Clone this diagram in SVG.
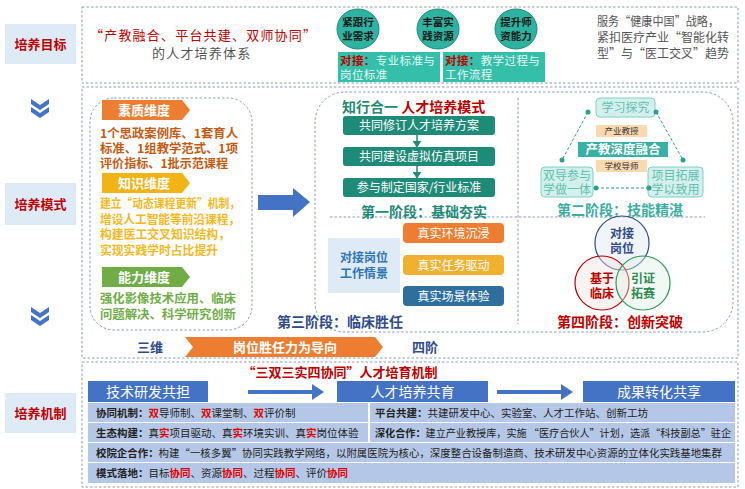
<svg xmlns="http://www.w3.org/2000/svg" width="745" height="489" viewBox="0 0 745 489">
<defs>
<style>
text{font-family:"Noto Sans CJK SC","Noto Sans",sans-serif;}
.dash{fill:none;stroke:#8a9bbb;stroke-width:1;stroke-dasharray:2.5,2}
.lbl{fill:#deebf7;}
.lbltx{fill:#c00000;font-size:13px;font-weight:bold;text-anchor:middle;}
.chev{fill:#4472c4;}
.kai{font-size:13px;letter-spacing:1.2px;}
.circ{fill:#2db3a0;stroke:#1d8e7e;stroke-width:1;}
.circtx{font-size:10.5px;font-weight:bold;fill:#1a1a1a;text-anchor:middle;}
.tealbox{fill:#33bfa9;}
.dimtx{font-size:12px;font-weight:bold;}
.s1box{fill:#1e8a78;}
.s1tx{fill:#fff;font-size:12px;text-anchor:middle;}
.s2box{fill:#d4f0ec;stroke:#7fd0c6;stroke-width:1;}
.s2tx{fill:#5fbfb3;font-size:12px;text-anchor:middle;}
.tan{fill:#fbd9b0;}
.tantx{fill:#333;font-size:8.5px;text-anchor:middle;}
.dot{fill:#2e9e90;}
.dl{stroke:#2e9e90;stroke-width:1;stroke-dasharray:3,2;fill:none;}
.s3tx{fill:#fff;font-size:12px;text-anchor:middle;}
.hdr{fill:#4472c4;}
.hdrtx{fill:#fff;font-size:14px;text-anchor:middle;}
.row{fill:#b4c7e7;}
.rt{font-size:10.5px;fill:#222;}
.b{font-weight:bold;}
.r{fill:#e00000;font-weight:bold;}
.stage{font-size:14px;font-weight:bold;text-anchor:middle;}
.tb{font-size:11.5px;letter-spacing:0.4px;}
.rtx{font-size:12px;fill:#555;}
</style>
<marker id="ah" markerWidth="4" markerHeight="4" refX="1" refY="2" orient="auto" markerUnits="strokeWidth">
<path d="M0,0 L3,2 L0,4 z" fill="#4472c4"/>
</marker>
<marker id="ahs" markerWidth="6" markerHeight="6" refX="1" refY="3" orient="auto" markerUnits="strokeWidth">
<path d="M0,0 L5,3 L0,6 z" fill="#1e8a78"/>
</marker>
</defs>

<rect width="745" height="489" fill="#ffffff"/>

<!-- left labels -->
<g id="label-goal"><rect class="lbl" x="5" y="24" width="71" height="40"/><text class="lbltx" x="40.5" y="48.5">培养目标</text></g>
<g id="chev1"><polygon class="chev" points="31,99 40,105 49,99 49,104 40,110 31,104"/><polygon class="chev" points="31,107 40,113 49,107 49,112 40,118 31,112"/></g>
<g id="label-mode"><rect class="lbl" x="5" y="183" width="71" height="42"/><text class="lbltx" x="40.5" y="208.5">培养模式</text></g>
<g id="chev2"><polygon class="chev" points="31,307 40,313 49,307 49,312 40,318 31,312"/><polygon class="chev" points="31,315 40,321 49,315 49,320 40,326 31,320"/></g>
<g id="label-mech"><rect class="lbl" x="5" y="393" width="71" height="40"/><text class="lbltx" x="40.5" y="417.5">培养机制</text></g>

<!-- top section -->
<g id="goal-section">
<rect class="dash" x="82" y="7" width="656" height="76"/>
<text class="kai" x="90" y="40" fill="#c00000">“产教融合、平台共建、双师协同”</text>
<text class="kai" x="152" y="58" fill="#555">的人才培养体系</text>
<g id="circ1"><ellipse class="circ" cx="358" cy="29" rx="21" ry="20"/><text class="circtx" x="358" y="26">紧跟行</text><text class="circtx" x="358" y="40">业需求</text></g>
<g id="circ2"><ellipse class="circ" cx="438" cy="29" rx="21" ry="20"/><text class="circtx" x="438" y="26">丰富实</text><text class="circtx" x="438" y="40">践资源</text></g>
<g id="circ3"><ellipse class="circ" cx="516" cy="29" rx="21" ry="20"/><text class="circtx" x="516" y="26">提升师</text><text class="circtx" x="516" y="40">资能力</text></g>
<g id="dock1"><rect class="tealbox" x="338" y="52" width="102" height="30"/>
<text class="tb" x="340" y="65"><tspan fill="#c00000" font-weight="bold">对接：</tspan><tspan fill="#e8f7f4">专业标准与</tspan></text>
<text class="tb" x="340" y="79" fill="#e8f7f4">岗位标准</text></g>
<g id="dock2"><rect class="tealbox" x="443" y="52" width="102" height="30"/>
<text class="tb" x="445" y="65"><tspan fill="#c00000" font-weight="bold">对接：</tspan><tspan fill="#e8f7f4">教学过程与</tspan></text>
<text class="tb" x="445" y="79" fill="#e8f7f4">工作流程</text></g>
<text class="rtx" x="597" y="26" textLength="122" lengthAdjust="spacingAndGlyphs">服务“健康中国”战略，</text>
<text class="rtx" x="597" y="42" textLength="132" lengthAdjust="spacingAndGlyphs">紧扣医疗产业“智能化转</text>
<text class="rtx" x="597" y="58" textLength="132" lengthAdjust="spacingAndGlyphs">型”与“医工交叉”趋势</text>
</g>

<!-- middle section -->
<rect class="dash" x="82" y="87" width="656" height="271"/>

<g id="dimensions">
<rect class="dash" x="90" y="98" width="162" height="232" rx="24"/>
<polygon points="102,100 182,100 190,110 182,120 102,120" fill="#ed7d31"/>
<text x="144" y="115" font-size="13" font-weight="bold" fill="#fff" text-anchor="middle">素质维度</text>
<text class="dimtx" x="100" y="138" fill="#c55a11" textLength="138" lengthAdjust="spacingAndGlyphs">1个思政案例库、1套育人</text>
<text class="dimtx" x="100" y="153" fill="#c55a11" textLength="138" lengthAdjust="spacingAndGlyphs">标准、1组教学范式、1项</text>
<text class="dimtx" x="100" y="168" fill="#c55a11" textLength="128" lengthAdjust="spacingAndGlyphs">评价指标、1批示范课程</text>
<polygon points="102,173 182,173 190,183 182,193 102,193" fill="#f2b316"/>
<text x="144" y="188" font-size="13" font-weight="bold" fill="#fff" text-anchor="middle">知识维度</text>
<text class="dimtx" x="100" y="208" fill="#f6b81c" textLength="140" lengthAdjust="spacingAndGlyphs">建立“动态课程更新”机制，</text>
<text class="dimtx" x="100" y="224" fill="#f6b81c" textLength="140" lengthAdjust="spacingAndGlyphs">增设人工智能等前沿课程，</text>
<text class="dimtx" x="100" y="239" fill="#f6b81c" textLength="130" lengthAdjust="spacingAndGlyphs">构建医工交叉知识结构，</text>
<text class="dimtx" x="100" y="255" fill="#f6b81c" textLength="118" lengthAdjust="spacingAndGlyphs">实现实践学时占比提升</text>
<polygon points="102,267 182,267 190,277 182,287 102,287" fill="#70ad47"/>
<text x="144" y="282" font-size="13" font-weight="bold" fill="#fff" text-anchor="middle">能力维度</text>
<text class="dimtx" x="100" y="303" fill="#70ad47" textLength="136" lengthAdjust="spacingAndGlyphs">强化影像技术应用、临床</text>
<text class="dimtx" x="100" y="319" fill="#70ad47" textLength="136" lengthAdjust="spacingAndGlyphs">问题解决、科学研究创新</text>
</g>

<g id="connectors">
<polygon points="258,195 293,195 293,188 310,202 293,217 293,210 258,210" fill="#4472c4"/>
<line x1="417" y1="135" x2="417" y2="142" stroke="#1e8a78" stroke-width="1.5" marker-end="url(#ahs)"/>
<line x1="417" y1="166" x2="417" y2="173" stroke="#1e8a78" stroke-width="1.5" marker-end="url(#ahs)"/>
<line x1="248" y1="392" x2="316" y2="392" stroke="#4472c4" stroke-width="4" marker-end="url(#ah)"/>
<line x1="497" y1="392" x2="565" y2="392" stroke="#4472c4" stroke-width="4" marker-end="url(#ah)"/>
</g>

<g id="stages">
<rect class="dash" x="315" y="92" width="418" height="240" rx="30"/>
<line class="dash" x1="518" y1="98" x2="518" y2="324"/>
<line class="dash" x1="330" y1="217" x2="705" y2="217"/>
</g>

<g id="stage1">
<text x="342" y="112" font-size="14" font-weight="bold"><tspan fill="#1f8a70">知行合一 </tspan><tspan fill="#c00000">人才培养模式</tspan></text>
<rect class="s1box" x="343" y="116" width="152" height="19" rx="3"/><text class="s1tx" x="419" y="130">共同修订人才培养方案</text>
<rect class="s1box" x="343" y="147" width="152" height="19" rx="3"/><text class="s1tx" x="419" y="161">共同建设虚拟仿真项目</text>
<rect class="s1box" x="343" y="178" width="152" height="19" rx="3"/><text class="s1tx" x="419" y="192">参与制定国家/行业标准</text>
<text class="stage" x="424" y="217" fill="#1f8a78">第一阶段：基础夯实</text>
</g>

<g id="stage2">
<path class="dl" d="M588,112 L562,160 M656,112 L683,160 M596,188 L649,188"/>
<rect class="s2box" x="596" y="98" width="59" height="19" rx="4"/><text class="s2tx" x="625.5" y="112">学习探究</text>
<rect class="s2box" x="541" y="167" width="52" height="30" rx="4"/><text class="s2tx" x="567" y="180">双导参与</text><text class="s2tx" x="567" y="194">学做一体</text>
<rect class="s2box" x="648" y="167" width="55" height="30" rx="4"/><text class="s2tx" x="675.5" y="180">项目拓展</text><text class="s2tx" x="675.5" y="194">学以致用</text>
<circle class="dot" cx="588" cy="112" r="2.5"/><circle class="dot" cx="656" cy="112" r="2.5"/>
<circle class="dot" cx="562" cy="160" r="2.5"/><circle class="dot" cx="683" cy="160" r="2.5"/>
<circle class="dot" cx="596" cy="188" r="2.5"/><circle class="dot" cx="649" cy="188" r="2.5"/>
<rect class="tan" x="596" y="125" width="51" height="12" rx="1"/><text class="tantx" x="621.5" y="134">产业教授</text>
<rect x="578" y="142" width="90" height="15" fill="#37b0a6"/><text x="623" y="154" font-size="12.5" font-weight="bold" fill="#fff" text-anchor="middle">产教深度融合</text>
<rect class="tan" x="596" y="160" width="51" height="12" rx="1"/><text class="tantx" x="621.5" y="169">学校导师</text>
<text class="stage" x="620" y="215" fill="#3aaea0">第二阶段：技能精湛</text>
</g>

<g id="stage3">
<rect x="328" y="238" width="72" height="55" fill="#deebf7"/>
<text x="364" y="262" font-size="12" font-weight="bold" fill="#2e75b6" text-anchor="middle">对接岗位</text>
<text x="364" y="278" font-size="12" font-weight="bold" fill="#2e75b6" text-anchor="middle">工作情景</text>
<rect x="403" y="223" width="101" height="20" rx="4" fill="#ed7d31"/><text class="s3tx" x="453.5" y="237.5">真实环境沉浸</text>
<rect x="403" y="255" width="101" height="20" rx="4" fill="#efb12f"/><text class="s3tx" x="453.5" y="269.5">真实任务驱动</text>
<rect x="403" y="286" width="101" height="20" rx="4" fill="#2e6f9e"/><text class="s3tx" x="453.5" y="300.5">真实场景体验</text>
<text class="stage" x="340" y="327" fill="#2f4b8a" text-anchor="start">第三阶段：临床胜任</text>
</g>

<g id="stage4">
<circle cx="622" cy="243" r="27" fill="#dde3f2" fill-opacity="0.4" stroke="#2f4b8a" stroke-width="1.2"/>
<circle cx="602" cy="283" r="27" fill="#f6dede" fill-opacity="0.4" stroke="#c00000" stroke-width="1.2"/>
<circle cx="643" cy="283" r="27" fill="#dcefe3" fill-opacity="0.4" stroke="#2e9a5a" stroke-width="1.2"/>
<text x="622" y="238" font-size="12" font-weight="bold" fill="#2f4b8a" text-anchor="middle">对接</text>
<text x="622" y="253" font-size="12" font-weight="bold" fill="#2f4b8a" text-anchor="middle">岗位</text>
<text x="602" y="283" font-size="12" font-weight="bold" fill="#c00000" text-anchor="middle">基于</text>
<text x="602" y="298" font-size="12" font-weight="bold" fill="#c00000" text-anchor="middle">临床</text>
<text x="643" y="283" font-size="12" font-weight="bold" fill="#2e8a50" text-anchor="middle">引证</text>
<text x="643" y="298" font-size="12" font-weight="bold" fill="#2e8a50" text-anchor="middle">拓赛</text>
<text class="stage" x="620" y="327" fill="#c00000">第四阶段：创新突破</text>
</g>

<g id="banner">
<text x="150" y="352" font-size="13" font-weight="bold" fill="#2f4b8a" text-anchor="middle">三维</text>
<polygon points="185,337 375,337 383,347 375,357 185,357 193,347" fill="#ed7d31"/>
<text x="285" y="352" font-size="13" font-weight="bold" fill="#fff" text-anchor="middle">岗位胜任力为导向</text>
<text x="425" y="352" font-size="13" font-weight="bold" fill="#2f4b8a" text-anchor="middle">四阶</text>
</g>

<!-- bottom section -->
<g id="mechanism">
<rect class="dash" x="82" y="362" width="656" height="125"/>
<text x="340" y="377" font-size="13" font-weight="bold" fill="#c00000" text-anchor="middle">“三双三实四协同”人才培育机制</text>
<g id="hdr1"><rect class="hdr" x="88" y="381" width="120" height="21"/><text class="hdrtx" x="148" y="396.5">技术研发共担</text></g>
<g id="hdr2"><rect class="hdr" x="337" y="381" width="151" height="21"/><text class="hdrtx" x="412.5" y="396.5">人才培养共育</text></g>
<g id="hdr3"><rect class="hdr" x="583" y="381" width="152" height="21"/><text class="hdrtx" x="659" y="396.5">成果转化共享</text></g>
<rect class="row" x="88" y="403" width="280" height="19"/>
<rect class="row" x="370" y="403" width="365" height="19"/>
<rect class="row" x="88" y="423" width="280" height="19"/>
<rect class="row" x="370" y="423" width="365" height="19"/>
<rect class="row" x="88" y="443" width="647" height="19"/>
<rect class="row" x="88" y="463" width="647" height="20"/>
<text class="rt" x="96" y="416.5"><tspan class="b">协同机制：</tspan><tspan class="r">双</tspan>导师制、<tspan class="r">双</tspan>课堂制、<tspan class="r">双</tspan>评价制</text>
<text class="rt" x="375" y="416.5"><tspan class="b">平台共建：</tspan>共建研发中心、实验室、人才工作站、创新工坊</text>
<text class="rt" x="96" y="436.5"><tspan class="b">生态构建：</tspan>真<tspan class="r">实</tspan>项目驱动、真<tspan class="r">实</tspan>环境实训、真<tspan class="r">实</tspan>岗位体验</text>
<text class="rt" x="375" y="436.5" textLength="356" lengthAdjust="spacingAndGlyphs"><tspan class="b">深化合作：</tspan>建立产业教授库，实施 “医疗合伙人”计划，选派“科技副总”驻企</text>
<text class="rt" x="96" y="456.5" textLength="626" lengthAdjust="spacingAndGlyphs"><tspan class="b">校院企合作：</tspan>构建“一核多翼”协同实践教学网络，以附属医院为核心，深度整合设备制造商、技术研发中心资源的立体化实践基地集群</text>
<text class="rt" x="96" y="477"><tspan class="b">模式落地：</tspan>目标<tspan class="r">协同</tspan>、资源<tspan class="r">协同</tspan>、过程<tspan class="r">协同</tspan>、评价<tspan class="r">协同</tspan></text>
</g>
</svg>
